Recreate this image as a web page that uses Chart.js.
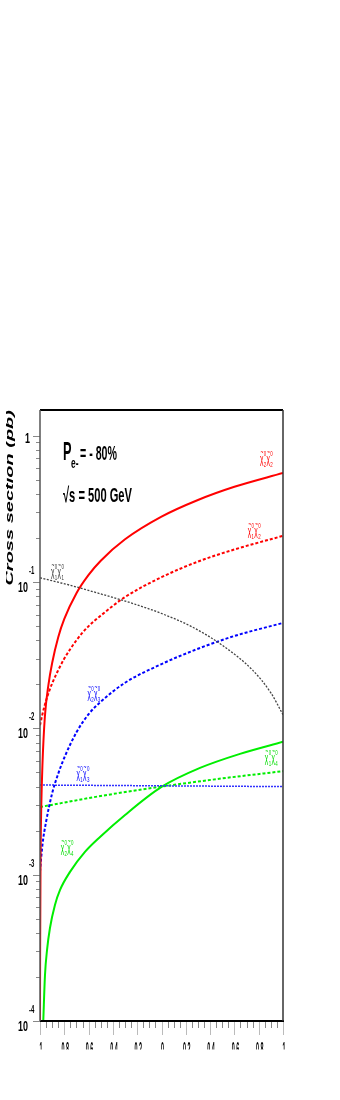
<!DOCTYPE html>
<html>
<head>
<meta charset="utf-8">
<script src="https://cdn.jsdelivr.net/npm/chart.js@4/dist/chart.umd.min.js"></script>
<style>
body{margin:0;background:#fff;}
canvas{display:block;}
</style>
</head>
<body>
<canvas id="mycanvas" width="340" height="1100"></canvas>
<script>
// positron polarisation (x) and cross section in pb (y)
var chi11_p  = [-1, -0.75, -0.5, -0.25, 0, 0.25, 0.5, 0.75, 0.9, 1];
var chi11_xs = [0.107, 0.095, 0.083, 0.072, 0.061, 0.0495, 0.037, 0.025, 0.0175, 0.0124];

var chi22_p  = [-1, -0.999, -0.995, -0.99, -0.98, -0.96, -0.93, -0.9, -0.85, -0.8, -0.7, -0.6, -0.5, -0.3, 0, 0.3, 0.6, 1];
var chi22_xs = [0.0001, 0.0003, 0.0014, 0.0028, 0.0056, 0.012, 0.020, 0.028, 0.042, 0.056, 0.084, 0.112, 0.140, 0.196, 0.28, 0.364, 0.448, 0.557];

var chi12_p  = [-1, -0.98, -0.95, -0.9, -0.85, -0.8, -0.7, -0.6, -0.5, -0.3, 0, 0.3, 0.6, 1];
var chi12_xs = [0.0105, 0.0125, 0.0155, 0.0203, 0.025, 0.030, 0.040, 0.050, 0.059, 0.079, 0.108, 0.138, 0.167, 0.207];

var chi23_p  = [-1, -0.98, -0.95, -0.9, -0.85, -0.8, -0.7, -0.6, -0.5, -0.3, 0, 0.3, 0.6, 1];
var chi23_xs = [0.00105, 0.0016, 0.0023, 0.0036, 0.0049, 0.0063, 0.0094, 0.0125, 0.0152, 0.0205, 0.0275, 0.035, 0.0428, 0.0526];

var chi13_p  = [-1, 0, 1];
var chi13_xs = [0.0041, 0.00405, 0.0040];

var chi14_p  = [-1, -0.5, 0, 0.5, 1];
var chi14_xs = [0.0029, 0.00345, 0.0040, 0.00455, 0.0051];

var chi24_p  = [-0.973, -0.959, -0.942, -0.918, -0.877, -0.835, -0.753, -0.63, -0.506, -0.3, 0, 0.317, 0.646, 1];
var chi24_xs = [0.0001, 0.000206, 0.000306, 0.000432, 0.000621, 0.000787, 0.001045, 0.00143, 0.00181, 0.00256, 0.00398, 0.00537, 0.0067, 0.0081];

// axis ticks
var xTickVals = [-1, -0.8, -0.6, -0.4, -0.2, 0, 0.2, 0.4, 0.6, 0.8, 1];
var xTickText = ["1", "0.8", "0.6", "0.4", "0.2", "0", "0.2", "0.4", "0.6", "0.8", "1"];
var yTickVals = [1e-4, 1e-3, 1e-2, 1e-1, 1];
var yTickBase = ["10", "10", "10", "10", "1"];
var yTickExp  = ["-4", "-3", "-2", "-1", ""];

// curve labels: subscripts, anchor in data units, colour
var curveLabels = [
	{a:"1", b:"1", p:-0.91, v:0.14,  color:"#333"},
	{a:"2", b:"2", p:0.81, v:0.83,   color:"#f00"},
	{a:"1", b:"2", p:0.71, v:0.265,  color:"#f00"},
	{a:"2", b:"3", p:-0.61, v:0.0205, color:"#00f"},
	{a:"1", b:"3", p:-0.70, v:0.0058, color:"#00f"},
	{a:"2", b:"4", p:-0.83, v:0.0018, color:"#0d0"},
	{a:"1", b:"4", p:0.85, v:0.0075, color:"#0d0"}
];

var FONT = '"Liberation Sans", "DejaVu Sans", Arial, sans-serif';

function pts(px, py) {
	return px.map(function(p, i){ return {x:p, y:py[i]}; });
}

function squeeze(ctx, txt, x, y, sx, align) {
	ctx.save();
	ctx.translate(x, y);
	ctx.scale(sx, 1);
	ctx.textAlign = align || 'left';
	ctx.fillText(txt, 0, 0);
	ctx.restore();
}

// fit a string into a given pixel width
function fit(ctx, txt, x, y, w) {
	var m = ctx.measureText(txt).width;
	squeeze(ctx, txt, x, y, w / m, 'left');
}

function chiLabel(ctx, x, top, a, b, color) {
	ctx.save();
	ctx.fillStyle = color;
	ctx.translate(x, top);
	ctx.scale(0.55, 1);
	var cx = 0;
	[a, b].forEach(function(s){
		ctx.font = '12px ' + FONT;
		ctx.fillText("χ", cx, 15);
		ctx.font = '9px ' + FONT;
		ctx.fillText("~", cx + 1, 7);
		ctx.font = '8px ' + FONT;
		ctx.fillText("0", cx + 7, 8);
		ctx.fillText(s, cx + 7, 19);
		cx += 12;
	});
	ctx.restore();
}

var framePlugin = {
	id: 'frame',
	afterDatasetsDraw: function(chart) {
		var ctx = chart.ctx, a = chart.chartArea;
		var xs = chart.scales.x, ys = chart.scales.y;
		ctx.save();

		// y minor + major ticks
		ctx.strokeStyle = '#888';
		ctx.lineWidth = 1;
		for (var n = -4; n <= 0; n++) {
			for (var k = 1; k <= 9; k++) {
				var v = k * Math.pow(10, n);
				if (v > ys.max) break;
				var py = Math.round(ys.getPixelForValue(v)) + 0.5;
				ctx.beginPath();
				ctx.moveTo(k == 1 ? a.left - 7 : a.left - 4, py);
				ctx.lineTo(a.left, py);
				ctx.stroke();
			}
		}
		// x ticks every 0.05, long ones at 0.2
		for (var i = 0; i <= 40; i++) {
			var p = -1 + i * 0.05;
			var px = Math.round(xs.getPixelForValue(p)) + 0.5;
			var major = (i % 4 == 0);
			ctx.strokeStyle = major ? '#bbb' : '#888';
			ctx.beginPath();
			ctx.moveTo(px, a.bottom);
			ctx.lineTo(px, a.bottom + (major ? 14 : 7));
			ctx.stroke();
		}

		// frame
		ctx.lineWidth = 2;
		ctx.strokeStyle = '#000';
		ctx.beginPath();
		ctx.moveTo(a.left, a.top); ctx.lineTo(a.right, a.top);
		ctx.moveTo(a.left, a.bottom); ctx.lineTo(a.right + 1, a.bottom);
		ctx.stroke();
		ctx.lineWidth = 1.5;
		ctx.strokeStyle = '#333';
		ctx.beginPath();
		ctx.moveTo(a.right, a.top); ctx.lineTo(a.right, a.bottom);
		ctx.stroke();
		ctx.strokeStyle = '#555';
		ctx.beginPath();
		ctx.moveTo(a.left, a.top); ctx.lineTo(a.left, a.bottom);
		ctx.stroke();

		ctx.fillStyle = '#000';
		ctx.textBaseline = 'alphabetic';

		// y tick labels
		yTickVals.forEach(function(v, i){
			var py = ys.getPixelForValue(v);
			if (yTickExp[i] === "") {
				ctx.font = 'bold 14px ' + FONT;
				squeeze(ctx, yTickBase[i], 30, py + 7, 0.64, 'right');
			} else {
				ctx.font = 'bold 14px ' + FONT;
				squeeze(ctx, yTickBase[i], 28, py + 10, 0.64, 'right');
				ctx.font = 'bold 10px ' + FONT;
				squeeze(ctx, yTickExp[i], 29, py - 8, 0.6, 'left');
			}
		});

		// x tick labels (lower half cut off as in the original)
		ctx.save();
		ctx.beginPath();
		ctx.rect(0, a.bottom + 10, chart.width, 18.5);
		ctx.clip();
		ctx.font = 'bold 18px ' + FONT;
		xTickVals.forEach(function(v, i){
			squeeze(ctx, xTickText[i], xs.getPixelForValue(v) + 1, 1055, 0.3, 'center');
		});
		ctx.restore();

		// y axis title, squeezed like the rest of the figure and cut at the left
		ctx.save();
		ctx.beginPath();
		ctx.rect(6, a.top - 5, 30, 200);
		ctx.clip();
		ctx.translate(13, a.top);
		ctx.rotate(-Math.PI / 2);
		ctx.scale(1, 0.55);
		ctx.font = 'italic bold 20px ' + FONT;
		ctx.textAlign = 'right';
		ctx.fillText("Cross section (pb)", 0, 0);
		ctx.restore();

		// annotation text
		ctx.font = 'bold 25px ' + FONT;
		fit(ctx, "P", 63, 460, 8.5);
		ctx.font = 'bold 14px ' + FONT;
		fit(ctx, "e-", 71, 468, 7.5);
		ctx.font = 'bold 21px ' + FONT;
		fit(ctx, "= - 80%", 80, 460, 37);
		fit(ctx, "√s = 500 GeV", 63, 502, 69);

		// curve labels
		curveLabels.forEach(function(l){
			chiLabel(ctx, xs.getPixelForValue(l.p), ys.getPixelForValue(l.v), l.a, l.b, l.color);
		});

		ctx.restore();
	}
};

function line(px, py, color, width, dash) {
	return {
		data: pts(px, py),
		borderColor: color,
		borderWidth: width,
		borderDash: dash,
		pointRadius: 0,
		fill: false,
		cubicInterpolationMode: 'monotone'
	};
}

var ctx = document.getElementById('mycanvas').getContext('2d');
var chart = new Chart(ctx, {
	type: 'line',
	data: {
		datasets: [
			line(chi11_p, chi11_xs, '#444', 1.3, [2, 1.5]),
			line(chi22_p, chi22_xs, '#ff0000', 2, []),
			line(chi12_p, chi12_xs, '#ff0000', 2, [3, 2]),
			line(chi23_p, chi23_xs, '#0000ff', 2, [3, 2]),
			line(chi13_p, chi13_xs, '#3333ff', 1.5, [2, 1]),
			line(chi14_p, chi14_xs, '#00ee00', 2, [3, 2]),
			line(chi24_p, chi24_xs, '#00ee00', 2, [])
		]
	},
	options: {
		responsive: false,
		animation: false,
		devicePixelRatio: 1,
		layout: {padding: {left: 40, top: 410, right: 57, bottom: 79}},
		plugins: {legend: {display: false}, tooltip: {enabled: false}},
		scales: {
			x: {type: 'linear', min: -1, max: 1, display: false},
			y: {type: 'logarithmic', min: 1e-4, max: 1.5, display: false}
		}
	},
	plugins: [framePlugin]
});
</script>
</body>
</html>
